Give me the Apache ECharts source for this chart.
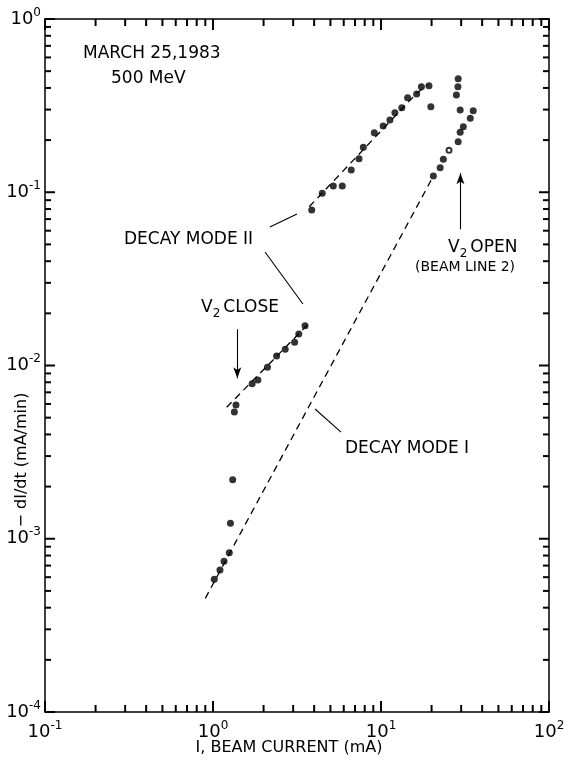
<!DOCTYPE html>
<html><head><meta charset="utf-8">
<script src="https://cdn.jsdelivr.net/npm/echarts/dist/echarts.min.js"></script>
<style>html,body{margin:0;padding:0;background:#fff}#c{width:574px;height:768px}</style>
</head><body><div id="c"></div>
<script>
// ---- data (I in mA, -dI/dt in mA/min) ----
const lowCurrentX = [1.018, 1.10, 1.163, 1.25, 1.27, 1.31, 1.34, 1.37, 1.71, 1.85, 2.11, 2.39, 2.69, 3.06, 3.24, 3.53];
const lowCurrentY = [0.000583, 0.000660, 0.000741, 0.000831, 0.00123, 0.00219, 0.00539, 0.00591, 0.00785, 0.00825, 0.00977, 0.01135, 0.01240, 0.01361, 0.0152, 0.01698];
const midCurrentX = [3.87, 4.47, 5.20, 5.88, 6.65, 7.40, 7.85, 9.12, 10.3, 11.3, 12.1, 13.3, 14.4, 16.3, 17.4, 19.3, 19.8];
const midCurrentY = [0.0790, 0.0986, 0.1087, 0.1087, 0.1344, 0.1562, 0.1817, 0.2207, 0.2412, 0.2612, 0.2878, 0.3076, 0.3513, 0.369, 0.4066, 0.412, 0.312];
const openX = [20.5, 22.5, 23.5, 28.8, 29.6, 30.9, 34.0, 35.4, 29.6, 28.1, 28.7, 28.8];
const openY = [0.124, 0.1386, 0.155, 0.1957, 0.222, 0.239, 0.267, 0.2956, 0.2984, 0.364, 0.4066, 0.452];
const hollowX = [25.4];
const hollowY = [0.175];
// dashed fits
const modeIX = [0.90, 20.5];
const modeIY = [0.000453, 0.124];
const modeIILowX = [1.206, 3.78];
const modeIILowY = [0.00574, 0.01776];
const modeIIHighX = [3.74, 16.3, 19.0];
const modeIIHighY = [0.0825, 0.3725, 0.416];
// axes
const xRange = [0.1, 100];
const yRange = [0.0001, 1];
const minorMultipliers = [2, 3, 4, 5, 6, 7, 8, 9];
const xDecades = [-1, 0, 1];
const yDecades = [-4, -3, -2, -1];
// annotation anchors (data coordinates)
const leaderModeIIUpper = [[2.18, 0.0630], [3.16, 0.0749]];
const leaderModeIILower = [[2.04, 0.0452], [3.43, 0.02264]];
const leaderModeI = [[4.05, 0.00561], [5.78, 0.00413]];
const arrowClose = [[1.395, 0.01618], [1.395, 0.00844]];
const arrowOpen = [[29.7, 0.0611], [29.7, 0.1287]];

const zip = (a, b) => a.map((v, i) => [v, b[i]]);
const minorX = [].concat(...xDecades.map(d => minorMultipliers.map(m => m * Math.pow(10, d))));
const minorY = [].concat(...yDecades.map(d => minorMultipliers.map(m => m * Math.pow(10, d))));
const majorX = [0.1, 1, 10, 100];
const majorY = [0.0001, 0.001, 0.01, 0.1, 1];

const FONT = '"DejaVu Sans", "Liberation Sans", sans-serif';
const chart = echarts.init(document.getElementById('c'), null, {renderer: 'canvas'});

function expLabel(v) {
  const e = Math.round(Math.log10(v));
  return '{b|10}{e|' + e + '}';
}
const richLab = {
  b: {fontSize: 18, fontFamily: FONT, color: '#000'},
  e: {fontSize: 12, fontFamily: FONT, color: '#000', padding: [0, 0, 13, 0]}
};
const axisLineStyle = {color: '#000', width: 1.5};

function seg(pair, arrow) {
  return [
    {coord: pair[0], symbol: 'none'},
    {coord: pair[1], symbol: arrow ? 'arrow' : 'none', symbolSize: [6, 11]}
  ];
}

const dashStyle = {color: '#000', width: 1.3, type: [7, 5]};

const option = {
  backgroundColor: '#fff',
  animation: false,
  grid: {left: 45, right: 25, top: 19, bottom: 56},
  xAxis: [
    {type: 'log', logBase: 10, min: xRange[0], max: xRange[1], position: 'bottom',
     axisLine: {show: true, lineStyle: axisLineStyle},
     axisTick: {show: false},
     minorTick: {show: false}, splitLine: {show: false},
     axisLabel: {formatter: expLabel, rich: richLab, margin: 8}},
    {type: 'log', logBase: 10, min: xRange[0], max: xRange[1], position: 'top',
     axisLine: {show: true, lineStyle: axisLineStyle},
     axisTick: {show: false}, splitLine: {show: false}, axisLabel: {show: false}}
  ],
  yAxis: [
    {type: 'log', logBase: 10, min: yRange[0], max: yRange[1], position: 'left',
     axisLine: {show: true, lineStyle: axisLineStyle},
     axisTick: {show: false},
     splitLine: {show: false},
     axisLabel: {formatter: expLabel, rich: richLab, margin: 4}},
    {type: 'log', logBase: 10, min: yRange[0], max: yRange[1], position: 'right',
     axisLine: {show: true, lineStyle: axisLineStyle},
     axisTick: {show: false}, splitLine: {show: false}, axisLabel: {show: false}}
  ],
  series: [
    {type: 'line', data: zip(modeIX, modeIY), symbol: 'none', lineStyle: dashStyle, silent: true},
    {type: 'line', data: zip(modeIILowX, modeIILowY), symbol: 'none', lineStyle: dashStyle, silent: true},
    {type: 'line', data: zip(modeIIHighX, modeIIHighY), symbol: 'none', lineStyle: dashStyle, silent: true},
    {type: 'scatter', data: zip(lowCurrentX, lowCurrentY).concat(zip(midCurrentX, midCurrentY), zip(openX, openY)),
     symbol: 'circle', symbolSize: 7, itemStyle: {color: '#000'}, z: 4,
     markLine: {silent: true, animation: false, label: {show: false},
       lineStyle: {color: '#000', width: 1.1, type: 'solid'},
       data: [seg(leaderModeIIUpper), seg(leaderModeIILower), seg(leaderModeI),
              seg(arrowClose, true), seg(arrowOpen, true)]}},
    {type: 'scatter', data: zip(hollowX, hollowY), symbol: 'emptyCircle', symbolSize: 5,
     itemStyle: {color: '#000', borderColor: '#000', borderWidth: 1.3}, z: 4}
  ]
};
chart.setOption(option);

function txt(x, y, text, size) {
  return {type: 'text', x: x, y: y, silent: true,
    style: {text: text, fontSize: size, fontFamily: FONT, fill: '#000', align: 'left', verticalAlign: 'middle'}};
}
const subRich = {
  a: {fontSize: 17, fontFamily: FONT, fill: '#000'},
  s: {fontSize: 12, fontFamily: FONT, fill: '#000', padding: [12, 3, 0, 0]}
};

// tick marks on all four sides: positions come from the library's own axis scales
const tickEls = [];
const TW = 2;
const yB = chart.convertToPixel({yAxisIndex: 0}, yRange[0]);
const yT = chart.convertToPixel({yAxisIndex: 0}, yRange[1]);
const xL = chart.convertToPixel({xAxisIndex: 0}, xRange[0]);
const xR = chart.convertToPixel({xAxisIndex: 0}, xRange[1]);
function addX(v, len) {
  const px = chart.convertToPixel({xAxisIndex: 0}, v);
  tickEls.push({type: 'rect', silent: true, z: 100, shape: {x: px - TW / 2, y: yB - len, width: TW, height: len}, style: {fill: '#000'}});
  tickEls.push({type: 'rect', silent: true, z: 100, shape: {x: px - TW / 2, y: yT, width: TW, height: len}, style: {fill: '#000'}});
}
function addY(v, len) {
  const py = chart.convertToPixel({yAxisIndex: 0}, v);
  tickEls.push({type: 'rect', silent: true, z: 100, shape: {x: xL, y: py - TW / 2, width: len, height: TW}, style: {fill: '#000'}});
  tickEls.push({type: 'rect', silent: true, z: 100, shape: {x: xR - len, y: py - TW / 2, width: len, height: TW}, style: {fill: '#000'}});
}
minorX.forEach(v => addX(v, 7));
majorX.forEach(v => addX(v, 11));
minorY.forEach(v => addY(v, 6));
majorY.forEach(v => addY(v, 10));

chart.setOption({graphic: tickEls.concat([
  txt(83, 54, 'MARCH 25,1983', 17),
  txt(111, 79, '500 MeV', 17),
  txt(124, 240, 'DECAY MODE II', 17),
  txt(345, 449, 'DECAY MODE I', 17),
  {type: 'text', x: 201, y: 308, silent: true, style: {text: '{a|V}{s|2}{a|CLOSE}', rich: subRich, align: 'left', verticalAlign: 'middle'}},
  {type: 'text', x: 448, y: 248, silent: true, style: {text: '{a|V}{s|2}{a|OPEN}', rich: subRich, align: 'left', verticalAlign: 'middle'}},
  txt(415, 267, '(BEAM LINE 2)', 14),
  {type: 'text', x: 289, y: 748, silent: true, style: {text: 'I, BEAM CURRENT (mA)', fontSize: 16, fontFamily: FONT, fill: '#000', align: 'center', verticalAlign: 'middle'}},
  {type: 'text', x: 22, y: 460, rotation: Math.PI / 2, silent: true, style: {text: '− dI/dt (mA/min)', fontSize: 16, fontFamily: FONT, fill: '#000', align: 'center', verticalAlign: 'middle'}}
])});
</script></body></html>
